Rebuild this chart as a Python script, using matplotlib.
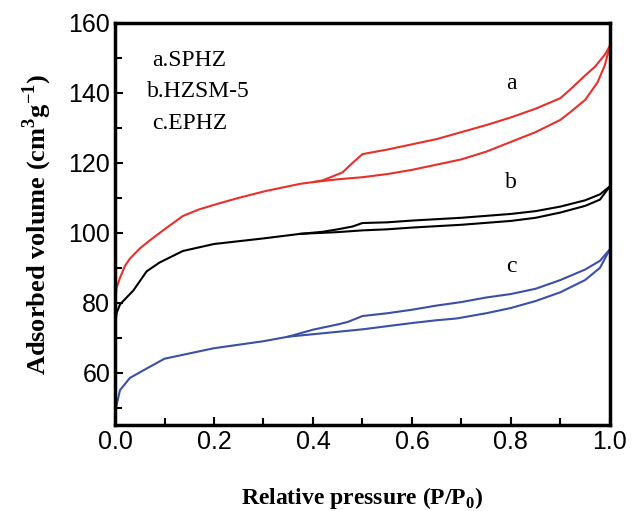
import matplotlib.pyplot as plt
from matplotlib.ticker import MultipleLocator

# SPHZ (a)
a_ads_x = [0, 0.0005, 0.003, 0.01, 0.02, 0.03, 0.05, 0.07, 0.1, 0.137, 0.17, 0.205, 0.25, 0.306, 0.374, 0.4,
           0.45, 0.5, 0.55, 0.6, 0.65, 0.7, 0.75, 0.8, 0.85, 0.9, 0.92, 0.95, 0.975, 0.99, 1.0]
a_ads_y = [51, 80, 84.2, 87.1, 90.5, 92.6, 95.5, 97.8, 101, 104.8, 106.7, 108.2, 110, 112, 114, 114.5,
           115.3, 115.9, 116.8, 118, 119.5, 121, 123.2, 126, 128.8, 132.3, 134.5, 138, 143, 148, 153.5]
a_des_x = [1.0, 0.99, 0.97, 0.95, 0.92, 0.9, 0.85, 0.8, 0.75, 0.7, 0.65, 0.6, 0.55, 0.5, 0.48, 0.46, 0.42, 0.4]
a_des_y = [153.5, 151, 147.5, 145, 141, 138.5, 135.5, 133, 130.8, 128.8, 126.8, 125.3, 123.8, 122.5, 120,
           117.3, 115, 114.5]

# HZSM-5 (b)
b_ads_x = [0, 0.003, 0.01, 0.02, 0.037, 0.064, 0.09, 0.137, 0.2, 0.3, 0.374, 0.45, 0.5, 0.55, 0.6, 0.7,
           0.8, 0.85, 0.9, 0.95, 0.98, 1.0]
b_ads_y = [72.7, 77, 79.5, 81, 83.5, 89, 91.5, 94.8, 96.8, 98.4, 99.7, 100.2, 100.7, 101, 101.5, 102.3,
           103.4, 104.3, 105.8, 107.7, 109.5, 113.3]
b_des_x = [1.0, 0.98, 0.95, 0.9, 0.85, 0.8, 0.7, 0.6, 0.55, 0.5, 0.48, 0.45, 0.42, 0.374]
b_des_y = [113.3, 111, 109.3, 107.5, 106.2, 105.4, 104.3, 103.5, 103, 102.8, 101.8, 101, 100.3, 99.7]

# EPHZ (c)
c_ads_x = [0, 0.002, 0.01, 0.03, 0.064, 0.1, 0.15, 0.2, 0.3, 0.35, 0.4, 0.45, 0.5, 0.55, 0.6, 0.65, 0.69,
           0.75, 0.8, 0.85, 0.9, 0.95, 0.98, 1.0]
c_ads_y = [45.5, 50, 55, 58.5, 61.2, 64, 65.5, 67, 69, 70.3, 71, 71.7, 72.4, 73.3, 74.2, 75, 75.5,
           77, 78.5, 80.5, 83, 86.5, 90, 95.3]
c_des_x = [1.0, 0.98, 0.95, 0.9, 0.85, 0.8, 0.75, 0.7, 0.65, 0.6, 0.55, 0.5, 0.47, 0.45, 0.4, 0.35]
c_des_y = [95.3, 92, 89.5, 86.5, 84, 82.5, 81.5, 80.2, 79.2, 78, 77, 76.2, 74.5, 73.8, 72.3, 70.3]

legend_lines = ['a.SPHZ', 'b.HZSM-5', 'c.EPHZ']

red = '#e8302a'
blue = '#3b4fa6'
serif = 'Liberation Serif'

plt.rcParams['mathtext.fontset'] = 'custom'
plt.rcParams['mathtext.rm'] = serif
plt.rcParams['mathtext.bf'] = serif + ':bold'

fig = plt.figure(figsize=(6.32, 5.11), dpi=100)
ax = fig.add_axes([0.182, 0.168, 0.783, 0.787])

ax.plot(a_ads_x, a_ads_y, c=red, lw=1.5)
ax.plot(a_des_x, a_des_y, c=red, lw=1.5)
ax.plot(b_ads_x, b_ads_y, c='black', lw=1.5)
ax.plot(b_des_x, b_des_y, c='black', lw=1.5)
ax.plot(c_ads_x, c_ads_y, c=blue, lw=1.5)
ax.plot(c_des_x, c_des_y, c=blue, lw=1.5)

ax.set_xlim(0, 1.0)
ax.set_ylim(45, 160)
ax.xaxis.set_major_locator(MultipleLocator(0.2))
ax.xaxis.set_minor_locator(MultipleLocator(0.1))
ax.yaxis.set_major_locator(MultipleLocator(20))
ax.yaxis.set_minor_locator(MultipleLocator(10))
ax.set_yticks([60, 80, 100, 120, 140, 160])
ax.tick_params(which='both', direction='in', width=1.5, labelsize=18)
ax.tick_params(which='major', length=6)
ax.tick_params(which='minor', length=5)
for lab in ax.get_xticklabels() + ax.get_yticklabels():
    lab.set_family('Liberation Sans')
for s in ax.spines.values():
    s.set_linewidth(2.5)

ax.set_xlabel('Relative pressure (P/P$_\\mathbf{0}$)', fontsize=17, fontweight='bold', family=serif, labelpad=22)
ax.set_ylabel('Adsorbed volume (cm$^\\mathbf{3}$g$^\\mathbf{-1}$)', fontsize=19, fontweight='bold', family=serif,
              labelpad=10)

for i, t in enumerate(legend_lines):
    ax.text(0.075 - (0.01 if i == 1 else 0), 149.4 - 9.1 * i, t, fontsize=17, family=serif, va='center')

ax.text(0.8, 142.8, 'a', fontsize=17, family=serif, ha='center', va='center')
ax.text(0.8, 114.3, 'b', fontsize=17, family=serif, ha='center', va='center')
ax.text(0.8, 90.5, 'c', fontsize=17, family=serif, ha='center', va='center')

fig.savefig('out.png', dpi=100)
